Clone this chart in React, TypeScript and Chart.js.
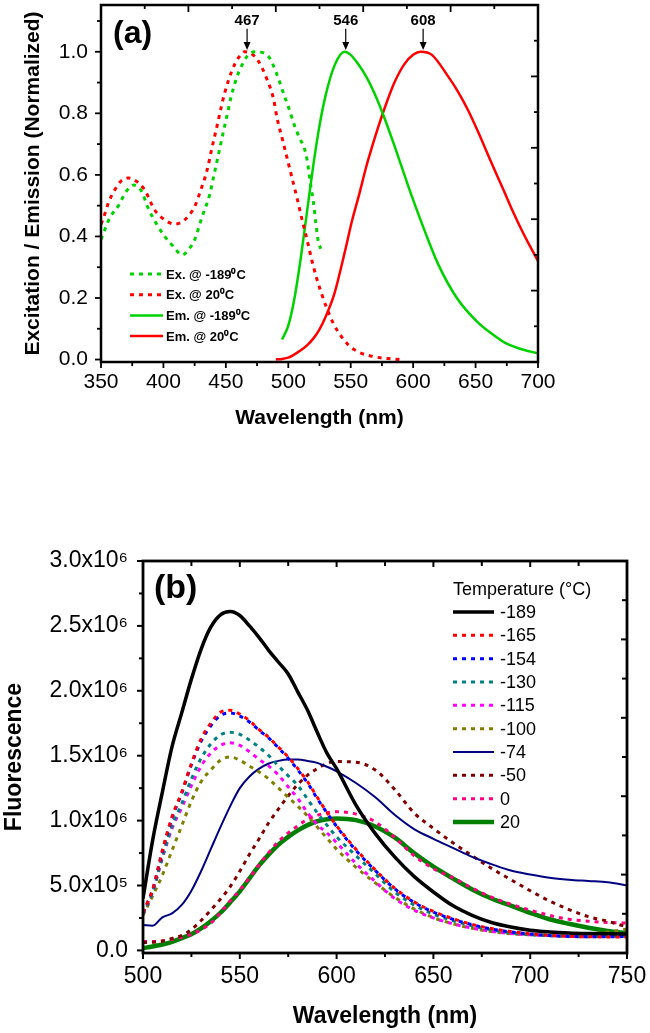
import React, { useEffect, useRef } from 'react';
import { Chart, registerables } from 'chart.js';

Chart.register(...registerables);

const FONT = '"Liberation Sans", Arial, Helvetica, sans-serif';

/* ---------------- Panel (a): normalized excitation / emission ---------------- */
const exCold_nm = [350, 357, 364, 370, 376, 382, 388, 395, 401, 408, 415, 421, 425, 431, 437, 440, 444, 448, 451, 454, 457, 461, 467, 473, 479, 485, 491, 497, 501, 505, 509, 513, 515, 518, 520, 522, 524, 526];
const exCold_val = [0.39, 0.46, 0.50, 0.545, 0.567, 0.55, 0.49, 0.437, 0.40, 0.367, 0.34, 0.362, 0.389, 0.464, 0.535, 0.59, 0.665, 0.74, 0.795, 0.85, 0.895, 0.94, 0.985, 1.0, 0.998, 0.98, 0.925, 0.855, 0.81, 0.76, 0.72, 0.685, 0.65, 0.565, 0.515, 0.445, 0.385, 0.36];

const exWarm_nm = [350, 352, 356, 361, 366, 372, 378, 385, 393, 401, 409, 417, 425, 429, 435, 439, 443, 446, 449, 455, 460, 465, 470, 476, 483, 488, 491, 495, 499, 503, 507, 511, 515, 519, 523, 527, 531, 536, 540, 548, 556, 569, 580, 589];
const exWarm_val = [0.44, 0.46, 0.51, 0.551, 0.58, 0.59, 0.58, 0.551, 0.486, 0.454, 0.44, 0.454, 0.497, 0.54, 0.616, 0.69, 0.76, 0.815, 0.865, 0.94, 0.98, 1.0, 0.995, 0.97, 0.91, 0.85, 0.785, 0.72, 0.655, 0.59, 0.525, 0.455, 0.39, 0.32, 0.26, 0.21, 0.165, 0.118, 0.09, 0.048, 0.025, 0.009, 0.003, 0.0];

const emCold_nm = [495, 500, 505, 510, 515, 520, 525, 530, 537, 545, 550, 556, 563, 569, 577, 585, 593, 599, 610, 620, 635, 652, 665, 673, 685, 700];
const emCold_val = [0.065, 0.11, 0.2, 0.33, 0.48, 0.63, 0.76, 0.86, 0.955, 1.0, 0.99, 0.96, 0.915, 0.865, 0.785, 0.695, 0.6, 0.53, 0.41, 0.31, 0.2, 0.12, 0.078, 0.056, 0.036, 0.02];

const emWarm_nm = [490, 495, 500, 505, 510, 515, 520, 525, 530, 537, 545, 551, 557, 562, 567, 572, 577, 585, 593, 600, 606, 615, 628, 636, 644, 652, 660, 667, 673, 680, 687, 694, 700];
const emWarm_val = [0, 0.002, 0.006, 0.017, 0.03, 0.046, 0.068, 0.098, 0.14, 0.215, 0.345, 0.45, 0.54, 0.62, 0.69, 0.755, 0.815, 0.9, 0.96, 0.99, 1.0, 0.99, 0.92, 0.87, 0.81, 0.74, 0.665, 0.6, 0.545, 0.48, 0.42, 0.365, 0.32];

const labelsA = ['Ex. @ -189\u2070C', 'Ex. @ 20\u2070C', 'Em. @ -189\u2070C', 'Em. @ 20\u2070C'];
const peakNm = [467, 546, 608];
const xTicksA = [350, 700, 50, 25]; // min, max, major step, minor step
const yTicksA = [-0.008, 1.152, 0.2, 0.1];

/* ---------------- Panel (b): fluorescence vs temperature ---------------- */
const wlB = [500, 505, 510, 515, 520, 525, 530, 535, 540, 545, 550, 555, 560, 565, 570, 575, 580, 585, 590, 595, 600, 610, 620, 630, 640, 650, 660, 670, 680, 690, 700, 710, 720, 730, 740, 750];
const tempsB = ['-189', '-165', '-154', '-130', '-115', '-100', '-74', '-50', '0', '20'];
const UNIT_B = 1e6;
const fl_m189 = [0.40, 0.85, 1.22, 1.57, 1.83, 2.09, 2.32, 2.49, 2.585, 2.61, 2.58, 2.50, 2.41, 2.31, 2.22, 2.13, 1.99, 1.85, 1.68, 1.52, 1.40, 1.12, 0.90, 0.72, 0.57, 0.45, 0.345, 0.27, 0.215, 0.18, 0.155, 0.142, 0.134, 0.13, 0.128, 0.127];
const fl_m165 = [0.29, 0.47, 0.77, 1.03, 1.22, 1.44, 1.63, 1.75, 1.835, 1.85, 1.82, 1.77, 1.70, 1.64, 1.565, 1.49, 1.40, 1.30, 1.18, 1.065, 0.96, 0.78, 0.62, 0.48, 0.375, 0.30, 0.245, 0.20, 0.168, 0.145, 0.128, 0.115, 0.108, 0.105, 0.104, 0.104];
const fl_m154 = [0.29, 0.47, 0.76, 1.02, 1.21, 1.43, 1.61, 1.73, 1.81, 1.83, 1.805, 1.76, 1.695, 1.635, 1.56, 1.48, 1.39, 1.29, 1.17, 1.06, 0.955, 0.77, 0.615, 0.475, 0.37, 0.295, 0.24, 0.198, 0.165, 0.142, 0.126, 0.114, 0.108, 0.105, 0.105, 0.107];
const fl_m130 = [0.28, 0.45, 0.72, 0.96, 1.13, 1.32, 1.48, 1.59, 1.66, 1.68, 1.665, 1.62, 1.565, 1.50, 1.42, 1.345, 1.27, 1.165, 1.06, 0.965, 0.875, 0.73, 0.59, 0.45, 0.35, 0.28, 0.23, 0.19, 0.158, 0.135, 0.122, 0.112, 0.107, 0.106, 0.107, 0.11];
const fl_m115 = [0.28, 0.45, 0.71, 0.94, 1.10, 1.27, 1.42, 1.52, 1.58, 1.60, 1.58, 1.53, 1.47, 1.42, 1.35, 1.26, 1.17, 1.06, 0.97, 0.905, 0.83, 0.67, 0.53, 0.40, 0.31, 0.25, 0.205, 0.172, 0.146, 0.13, 0.12, 0.114, 0.111, 0.111, 0.113, 0.117];
const fl_m100 = [0.27, 0.42, 0.58, 0.77, 0.96, 1.15, 1.30, 1.39, 1.465, 1.49, 1.465, 1.42, 1.375, 1.32, 1.25, 1.18, 1.11, 1.035, 0.95, 0.865, 0.78, 0.64, 0.52, 0.41, 0.32, 0.252, 0.205, 0.17, 0.145, 0.128, 0.12, 0.118, 0.12, 0.128, 0.14, 0.165];
const fl_m74 = [0.196, 0.19, 0.255, 0.285, 0.35, 0.46, 0.61, 0.78, 0.95, 1.11, 1.25, 1.34, 1.40, 1.44, 1.46, 1.47, 1.47, 1.46, 1.445, 1.415, 1.38, 1.29, 1.18, 1.045, 0.935, 0.86, 0.79, 0.72, 0.665, 0.615, 0.585, 0.56, 0.545, 0.535, 0.525, 0.50];
const fl_m50 = [0.06, 0.062, 0.072, 0.092, 0.115, 0.16, 0.23, 0.31, 0.395, 0.49, 0.61, 0.74, 0.86, 0.985, 1.09, 1.19, 1.28, 1.35, 1.40, 1.44, 1.455, 1.45, 1.39, 1.24, 1.06, 0.94, 0.83, 0.73, 0.632, 0.545, 0.46, 0.38, 0.315, 0.26, 0.225, 0.18];
const fl_0 = [0.068, 0.068, 0.072, 0.085, 0.10, 0.125, 0.16, 0.21, 0.29, 0.38, 0.465, 0.56, 0.66, 0.755, 0.84, 0.905, 0.96, 1.01, 1.04, 1.06, 1.068, 1.05, 0.99, 0.87, 0.73, 0.63, 0.56, 0.48, 0.41, 0.355, 0.31, 0.27, 0.24, 0.225, 0.215, 0.21];
const fl_20 = [0.017, 0.03, 0.045, 0.065, 0.095, 0.125, 0.17, 0.225, 0.29, 0.37, 0.455, 0.555, 0.655, 0.74, 0.815, 0.875, 0.925, 0.965, 0.995, 1.01, 1.017, 1.004, 0.955, 0.87, 0.75, 0.645, 0.555, 0.47, 0.40, 0.345, 0.29, 0.24, 0.205, 0.175, 0.15, 0.132];
const seriesB = [fl_m189, fl_m165, fl_m154, fl_m130, fl_m115, fl_m100, fl_m74, fl_m50, fl_0, fl_20];
const xTicksB = [500, 750, 50, 25];
const yTicksB = [-0.02e6, 3.0e6, 0.5e6, 0.25e6];

/* ---------------- styles ---------------- */
const GREEN_A = '#00d200';
const RED_A = '#ff0000';
const DOT = [4, 5];
const stylesA = [
  { color: GREEN_A, width: 3, dash: DOT },
  { color: RED_A, width: 3, dash: DOT },
  { color: GREEN_A, width: 2.5, dash: [] as number[] },
  { color: RED_A, width: 2.5, dash: [] as number[] },
];
const stylesB = [
  { color: '#000000', width: 3.5, dash: [] as number[] },
  { color: '#ff0000', width: 3, dash: DOT },
  { color: '#0000ff', width: 3, dash: DOT },
  { color: '#008080', width: 3, dash: DOT },
  { color: '#ff00ff', width: 3, dash: DOT },
  { color: '#808000', width: 3, dash: DOT },
  { color: '#000080', width: 2, dash: [] as number[] },
  { color: '#800000', width: 3, dash: DOT },
  { color: '#ff0080', width: 3, dash: DOT },
  { color: '#008000', width: 4.5, dash: [] as number[] },
];

const SUP: Record<number, string> = { 4: '\u2074', 5: '\u2075', 6: '\u2076', 7: '\u2077' };

const zip = (xs: number[], ys: number[], k = 1) => xs.map((x, i) => ({ x, y: ys[i] * k }));

function stepTicks(from: number, to: number, step: number) {
  const out: { value: number }[] = [];
  const n = Math.round((to - from) / step);
  for (let i = 0; i <= n; i++) out.push({ value: from + i * step });
  return out;
}

function makeFrame(o: any) {
  return {
    id: 'frame',
    afterDatasetsDraw(chart: any) {
      const { ctx, chartArea: a } = chart;
      const xs = chart.scales.x;
      const ys = chart.scales.y;
      ctx.save();
      ctx.strokeStyle = '#000';
      ctx.lineCap = 'butt';
      ctx.setLineDash([]);
      ctx.lineWidth = o.tick;
      const seg = (x1: number, y1: number, x2: number, y2: number) => {
        ctx.beginPath();
        ctx.moveTo(x1, y1);
        ctx.lineTo(x2, y2);
        ctx.stroke();
      };
      const nx = Math.round((o.xMax - o.xMin) / o.xMinor);
      for (let i = 0; i <= nx; i++) {
        const px = xs.getPixelForValue(o.xMin + i * o.xMinor);
        seg(px, a.bottom, px, a.bottom + (i % 2 === 0 ? o.outMajor : o.outMinor));
      }
      const ny = Math.round((o.yMax - o.yStart) / o.yMinor);
      for (let i = 0; i <= ny; i++) {
        const py = ys.getPixelForValue(o.yStart + i * o.yMinor);
        seg(a.left, py, a.left - (i % 2 === 0 ? o.outMajor : o.outMinor), py);
      }
      for (let k = 1; k < 10; k++) {
        const len = k % 2 === 0 ? o.inMajor : o.inMinor;
        const px = a.left + ((a.right - a.left) * k) / 10;
        seg(px, a.top, px, a.top + len);
        const py = a.bottom - ((a.bottom - a.top) * k) / 10;
        seg(a.right, py, a.right - len, py);
      }
      ctx.lineWidth = o.border;
      ctx.strokeRect(a.left, a.top, a.right - a.left, a.bottom - a.top);
      ctx.restore();
    },
  };
}

function baseScale(min: number, max: number, step: number, size: number, pad: number, title: string, titlePad: any, cb?: any) {
  return {
    type: 'linear',
    min,
    max,
    border: { display: false },
    grid: { display: false, drawTicks: false, tickLength: 0 },
    ticks: {
      stepSize: step,
      autoSkip: false,
      maxRotation: 0,
      minRotation: 0,
      includeBounds: false,
      padding: pad,
      color: '#000',
      font: { family: FONT, size },
      ...(cb ? { callback: cb } : {}),
    },
    title: {
      display: true,
      text: title,
      color: '#000',
      font: { family: FONT, size, weight: 'bold' },
      padding: titlePad,
    },
  };
}

function PanelA() {
  const ref = useRef<HTMLCanvasElement>(null);
  useEffect(() => {
    const canvas = ref.current;
    if (!canvas) return;
    const frame = makeFrame({
      border: 2.5, tick: 1.8, outMajor: 6, outMinor: 4, inMajor: 7, inMinor: 4,
      xMin: xTicksA[0], xMax: xTicksA[1], xMinor: xTicksA[3],
      yStart: 0, yMax: 1.1, yMinor: yTicksA[3],
    });
    const decor = {
      id: 'decorA',
      afterDraw(chart: any) {
        const { ctx, chartArea: a } = chart;
        const xs = chart.scales.x;
        const ys = chart.scales.y;
        ctx.save();
        ctx.fillStyle = '#000';
        ctx.strokeStyle = '#000';
        ctx.font = `bold 32px ${FONT}`;
        ctx.textAlign = 'left';
        ctx.textBaseline = 'alphabetic';
        ctx.fillText('(a)', a.left + 12, a.top + 38);
        ctx.font = `bold 15px ${FONT}`;
        ctx.textAlign = 'center';
        ctx.textBaseline = 'middle';
        peakNm.forEach((nm) => {
          const px = xs.getPixelForValue(nm);
          ctx.fillText(String(nm), px, ys.getPixelForValue(1.1));
          const y0 = ys.getPixelForValue(1.075);
          const y1 = ys.getPixelForValue(1.006);
          ctx.lineWidth = 1.2;
          ctx.beginPath();
          ctx.moveTo(px, y0);
          ctx.lineTo(px, y1 - 6);
          ctx.stroke();
          ctx.beginPath();
          ctx.moveTo(px - 3.5, y1 - 8);
          ctx.lineTo(px + 3.5, y1 - 8);
          ctx.lineTo(px, y1);
          ctx.closePath();
          ctx.fill();
        });
        ctx.font = `bold 13px ${FONT}`;
        ctx.textAlign = 'left';
        ctx.textBaseline = 'middle';
        chart.data.datasets.forEach((ds: any, i: number) => {
          const y = a.top + 269 + i * 20.7;
          ctx.save();
          ctx.strokeStyle = ds.borderColor;
          ctx.lineWidth = ds.borderWidth;
          ctx.setLineDash(ds.borderDash || []);
          ctx.beginPath();
          ctx.moveTo(a.left + 29, y);
          ctx.lineTo(a.left + 62, y);
          ctx.stroke();
          ctx.restore();
          ctx.fillText(ds.label, a.left + 65, y + 1);
        });
        ctx.restore();
      },
    };
    const sets = [
      [exCold_nm, exCold_val],
      [exWarm_nm, exWarm_val],
      [emCold_nm, emCold_val],
      [emWarm_nm, emWarm_val],
    ];
    const xScale: any = baseScale(xTicksA[0], xTicksA[1], xTicksA[2], 21, 8, 'Wavelength (nm)', { top: 0, bottom: 9 });
    xScale.afterFit = (s: any) => { s.height = 78; s.paddingLeft = 0; s.paddingRight = 0; };
    xScale.afterBuildTicks = (s: any) => { s.ticks = stepTicks(xTicksA[0], xTicksA[1], xTicksA[2]); };
    const yScale: any = baseScale(yTicksA[0], yTicksA[1], yTicksA[2], 21, 13, 'Excitation / Emission (Normalized)', { top: 21, bottom: 0 }, (v: any) => Number(v).toFixed(1));
    yScale.afterFit = (s: any) => { s.width = 101; s.paddingTop = 0; s.paddingBottom = 0; };
    yScale.afterBuildTicks = (s: any) => { s.ticks = stepTicks(0, 1.0, yTicksA[2]); };
    const chart = new Chart(canvas, {
      type: 'line',
      data: {
        datasets: sets.map((s, i) => ({
          label: labelsA[i],
          data: zip(s[0], s[1]),
          borderColor: stylesA[i].color,
          borderWidth: stylesA[i].width,
          borderDash: stylesA[i].dash,
        })),
      },
      options: {
        responsive: false,
        animation: false,
        events: [],
        layout: { padding: { top: 5, right: 112, bottom: 0, left: 0 } },
        elements: { point: { radius: 0 }, line: { cubicInterpolationMode: 'monotone', fill: false } },
        plugins: { legend: { display: false }, tooltip: { enabled: false } },
        scales: { x: xScale, y: yScale },
      } as any,
      plugins: [frame, decor],
    });
    return () => chart.destroy();
  }, []);
  return <canvas ref={ref} width={650} height={440} style={{ position: 'absolute', left: 0, top: 0, width: 650, height: 440 }} />;
}

function PanelB() {
  const ref = useRef<HTMLCanvasElement>(null);
  useEffect(() => {
    const canvas = ref.current;
    if (!canvas) return;
    const frame = makeFrame({
      border: 2.8, tick: 2, outMajor: 6, outMinor: 4, inMajor: 6, inMinor: 5,
      xMin: xTicksB[0], xMax: xTicksB[1], xMinor: xTicksB[3],
      yStart: 0, yMax: yTicksB[1], yMinor: yTicksB[3],
    });
    const decor = {
      id: 'decorB',
      afterDraw(chart: any) {
        const { ctx, chartArea: a } = chart;
        ctx.save();
        ctx.fillStyle = '#000';
        ctx.font = `bold 34px ${FONT}`;
        ctx.textAlign = 'left';
        ctx.textBaseline = 'alphabetic';
        ctx.fillText('(b)', a.left + 11, a.top + 37);
        ctx.font = `18px ${FONT}`;
        ctx.textBaseline = 'middle';
        ctx.fillText('Temperature (\u00B0C)', a.left + 310, a.top + 29);
        chart.data.datasets.forEach((ds: any, i: number) => {
          const y = a.top + 51 + i * 23.33;
          ctx.save();
          ctx.strokeStyle = ds.borderColor;
          ctx.lineWidth = ds.borderWidth;
          ctx.setLineDash(ds.borderDash || []);
          ctx.beginPath();
          ctx.moveTo(a.left + 310, y);
          ctx.lineTo(a.left + 351, y);
          ctx.stroke();
          ctx.restore();
          ctx.fillText(ds.label, a.left + 357, y + 1);
        });
        ctx.restore();
      },
    };
    const fmt = (v: any) => {
      const n = Number(v);
      if (n === 0) return '0.0';
      const e = Math.floor(Math.log10(Math.abs(n)) + 1e-9);
      return `${(n / Math.pow(10, e)).toFixed(1)}x10${SUP[e] || ''}`;
    };
    const xScale: any = baseScale(xTicksB[0], xTicksB[1], xTicksB[2], 23, 10, 'Wavelength (nm)', { top: 0, bottom: 3 });
    xScale.afterFit = (s: any) => { s.height = 80; s.paddingLeft = 0; s.paddingRight = 0; };
    xScale.afterBuildTicks = (s: any) => { s.ticks = stepTicks(xTicksB[0], xTicksB[1], xTicksB[2]); };
    const yScale: any = baseScale(yTicksB[0], yTicksB[1], yTicksB[2], 23, 15, 'Fluorescence', { top: 1, bottom: 0 }, fmt);
    yScale.afterFit = (s: any) => { s.width = 143; s.paddingTop = 0; s.paddingBottom = 0; };
    yScale.afterBuildTicks = (s: any) => { s.ticks = stepTicks(0, yTicksB[1], yTicksB[2]); };
    const chart = new Chart(canvas, {
      type: 'line',
      data: {
        datasets: seriesB.map((vals, i) => ({
          label: tempsB[i],
          data: zip(wlB, vals, UNIT_B),
          borderColor: stylesB[i].color,
          borderWidth: stylesB[i].width,
          borderDash: stylesB[i].dash,
        })),
      },
      options: {
        responsive: false,
        animation: false,
        events: [],
        layout: { padding: { top: 61, right: 23, bottom: 0, left: 0 } },
        elements: { point: { radius: 0 }, line: { cubicInterpolationMode: 'monotone', fill: false } },
        plugins: { legend: { display: false }, tooltip: { enabled: false } },
        scales: { x: xScale, y: yScale },
      } as any,
      plugins: [frame, decor],
    });
    return () => chart.destroy();
  }, []);
  return <canvas ref={ref} width={650} height={533} style={{ position: 'absolute', left: 0, top: 500, width: 650, height: 533 }} />;
}

export default function App() {
  return (
    <div style={{ position: 'absolute', left: 0, top: 0, width: 650, height: 1033, background: '#ffffff', overflow: 'hidden' }}>
      <PanelA />
      <PanelB />
    </div>
  );
}
